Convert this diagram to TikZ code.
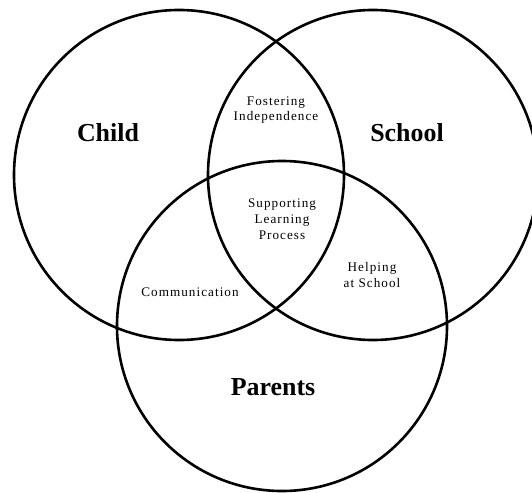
\documentclass[tikz,border=0pt]{standalone}
\usepackage{fontspec}
\setmainfont{Liberation Serif}
\newfontfamily\smallserif[LetterSpace=8]{Liberation Serif}
\begin{document}
\begin{tikzpicture}[x=1bp,y=-1bp,
  ring/.style={draw=black,line width=2.6bp},
  biglabel/.style={font=\fontsize{26}{30}\selectfont\bfseries,inner sep=0pt},
  smalllabel/.style={font=\smallserif\fontsize{13.2}{15.8}\selectfont,align=center,inner sep=0pt}]
\useasboundingbox (0,0) rectangle (532,493);
\clip (0,0) rectangle (532,493);
\fill[white] (0,0) rectangle (532,493);
\node[ring,circle,minimum size=330bp,inner sep=0pt] (child) at (179,175) {};
\node[ring,circle,minimum size=330bp,inner sep=0pt] (school) at (373,175) {};
\node[ring,circle,minimum size=330bp,inner sep=0pt] (parents) at (282,326) {};
\node[biglabel] (lchild) at (108,133) {Child};
\node[biglabel] (lschool) at (407,133) {School};
\node[biglabel] (lparents) at (273,387) {Parents};
\node[smalllabel] (fost) at (276,110) {Fostering\\Independence};
\node[smalllabel] (supp) at (282,219) {Supporting\\Learning\\Process};
\node[smalllabel] (comm) at (190,292) {Communication};
\node[smalllabel] (help) at (372,275) {Helping\\at School};
\end{tikzpicture}
\end{document}
